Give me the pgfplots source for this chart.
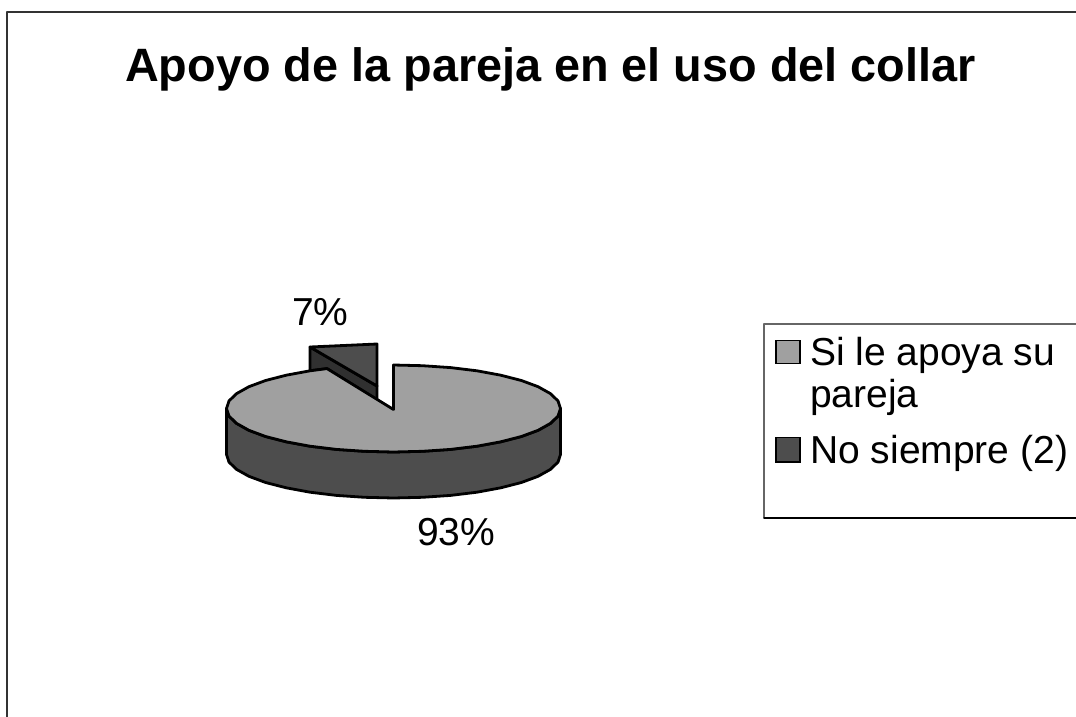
\documentclass[border=0pt]{standalone}
\usepackage{fontspec}
\setmainfont{Liberation Sans}
\usepackage{pgfplots}
\pgfplotsset{compat=1.18}
\definecolor{sliceA}{HTML}{A0A0A0}
\definecolor{sliceB}{HTML}{4D4D4D}
\definecolor{wallB}{HTML}{303030}
\begin{document}
\begin{tikzpicture}
\begin{axis}[
  scale only axis, width=1076pt, height=717pt,
  xmin=0, xmax=1076, ymin=0, ymax=717, y dir=reverse,
  hide axis, clip=true,
  every axis plot/.append style={line join=round, line cap=round},
]
% page corners keep the full frame
\addplot[white, line width=0.1pt, forget plot] coordinates {(0,0) (1076,717)};
% chart border
\addplot[color=black!80, line width=2pt] coordinates {(7,730) (7,12) (1090,12)};

% exploded slice, wall then top
\addplot[fill=wallB, draw=black, line width=2.8pt] coordinates {
  (310,347) (377,386) (377,400) (327,368.6) (310,370.8)} -- cycle;
\addplot[fill=sliceB, draw=black, line width=2.8pt] coordinates {
  (310,347) (377,344) (377,386)} -- cycle;

% rim of the big slice
\addplot[fill=sliceB, draw=black, line width=2.8pt] coordinates {
  (226.5,408.5) (229.0,416.1) (236.6,423.4) (248.9,430.3) (265.6,436.5) (286.2,441.8)
  (310.0,446.2) (336.4,449.4) (364.5,451.3) (393.5,452.0) (422.5,451.3) (450.6,449.4)
  (477.0,446.2) (500.8,441.8) (521.4,436.5) (538.1,430.3) (550.4,423.4) (558.0,416.1)
  (560.5,408.5)
  (560.5,454.5) (558.0,462.1) (550.4,469.4) (538.1,476.3) (521.4,482.5) (500.8,487.8)
  (477.0,492.2) (450.6,495.4) (422.5,497.3) (393.5,498.0) (364.5,497.3) (336.4,495.4)
  (310.0,492.2) (286.2,487.8) (265.6,482.5) (248.9,476.3) (236.6,469.4) (229.0,462.1)
  (226.5,454.5)} -- cycle;

% top of the big slice
\addplot[fill=sliceA, draw=black, line width=2.8pt] coordinates {
  (393.5,409.5) (393.5,365.0) (422.5,365.7) (450.6,367.6) (477.0,370.8) (500.8,375.2)
  (521.4,380.5) (538.1,386.7) (550.4,393.6) (558.0,400.9) (560.5,408.5) (558.0,416.1)
  (550.4,423.4) (538.1,430.3) (521.4,436.5) (500.8,441.8) (477.0,446.2) (450.6,449.4)
  (422.5,451.3) (393.5,452.0) (364.5,451.3) (336.4,449.4) (310.0,446.2) (286.2,441.8)
  (265.6,436.5) (248.9,430.3) (236.6,423.4) (229.0,416.1) (226.5,408.5) (229.0,400.9)
  (236.6,393.6) (248.9,386.7) (265.6,380.5) (286.2,375.2) (310.0,370.8) (327.0,368.6)} -- cycle;

% legend box
\addplot[fill=white, draw=none] coordinates {(764,324) (1090,324) (1090,518) (764,518)} -- cycle;
\addplot[color=black!60, line width=1.2pt] coordinates {(764,518) (764,324) (1090,324)};
\addplot[color=black, line width=1.2pt] coordinates {(764,518) (1090,518)};
\addplot[fill=sliceA, draw=black, line width=1.8pt, line join=miter] coordinates {
  (776,340.5) (800,340.5) (800,363.5) (776,363.5)} -- cycle;
\addplot[fill=sliceB, draw=black, line width=1.8pt, line join=miter] coordinates {
  (776,437.5) (800,437.5) (800,462) (776,462)} -- cycle;

\node[anchor=base west, inner sep=0pt, font=\fontsize{46.8}{50}\selectfont\bfseries]
  at (axis cs:125,81.5) {Apoyo de la pareja en el uso del collar};
\node[anchor=base west, inner sep=0pt, font=\fontsize{39}{42}\selectfont]
  at (axis cs:292,325.5) {7\%};
\node[anchor=base west, inner sep=0pt, font=\fontsize{39}{42}\selectfont]
  at (axis cs:417,545) {93\%};
\node[anchor=base west, inner sep=0pt, font=\fontsize{39}{42}\selectfont]
  at (axis cs:810,365) {Si le apoya su};
\node[anchor=base west, inner sep=0pt, font=\fontsize{39}{42}\selectfont]
  at (axis cs:810,407) {pareja};
\node[anchor=base west, inner sep=0pt, font=\fontsize{39}{42}\selectfont]
  at (axis cs:810,463) {No siempre (2)};
\end{axis}
\end{tikzpicture}
\end{document}
